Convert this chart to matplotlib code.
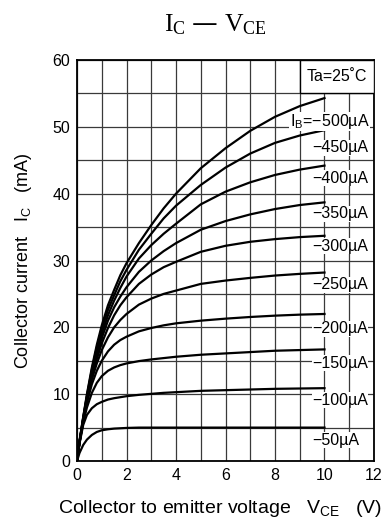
import matplotlib
matplotlib.use("Agg")
import matplotlib.pyplot as plt
from matplotlib.patches import Rectangle

# collector-emitter voltage (V) where the curves were read
vce = [0, 0.1, 0.25, 0.4, 0.6, 0.8, 1, 1.25, 1.5, 1.75, 2, 2.5, 3, 3.5, 4, 5, 6, 7, 8, 9, 10]

# collector current (mA) for each base current
ic_500 = [0, 3.0, 6.6, 10.0, 14.0, 17.4, 20.3, 23.3, 25.6, 27.8, 29.6, 32.6, 35.3, 37.8, 40.0, 43.8, 46.8, 49.4, 51.5, 53.1, 54.3]
ic_450 = [0, 2.9, 6.5, 9.8, 13.7, 17.0, 19.8, 22.6, 24.8, 26.9, 28.6, 31.6, 34.0, 36.3, 38.2, 41.3, 43.9, 46.0, 47.6, 48.7, 49.5]
ic_400 = [0, 2.9, 6.4, 9.6, 13.4, 16.5, 19.1, 21.8, 24.0, 25.9, 27.6, 30.3, 32.3, 34.0, 35.5, 38.4, 40.3, 41.7, 42.8, 43.6, 44.2]
ic_350 = [0, 2.8, 6.3, 9.4, 13.0, 15.9, 18.4, 21.0, 23.0, 24.6, 26.0, 28.3, 30.0, 31.4, 32.6, 34.6, 35.9, 36.9, 37.7, 38.3, 38.7]
ic_300 = [0, 2.8, 6.2, 9.2, 12.6, 15.3, 17.6, 19.9, 21.8, 23.3, 24.5, 26.5, 27.9, 29.0, 29.8, 31.3, 32.2, 32.8, 33.2, 33.5, 33.7]
ic_250 = [0, 2.8, 6.1, 9.0, 12.2, 14.6, 16.6, 18.5, 20.0, 21.1, 22.0, 23.4, 24.3, 25.0, 25.5, 26.5, 27.0, 27.4, 27.75, 28.0, 28.2]
ic_200 = [0, 2.7, 6.0, 8.7, 11.5, 13.5, 15.0, 16.4, 17.4, 18.1, 18.6, 19.4, 19.9, 20.3, 20.6, 21.0, 21.3, 21.55, 21.75, 21.9, 22.0]
ic_150 = [0, 2.7, 5.8, 8.0, 10.2, 11.7, 12.7, 13.5, 14.0, 14.35, 14.6, 14.95, 15.2, 15.4, 15.6, 15.9, 16.1, 16.3, 16.5, 16.6, 16.7]
ic_100 = [0, 2.6, 5.4, 6.9, 7.9, 8.5, 8.85, 9.2, 9.4, 9.55, 9.7, 9.9, 10.05, 10.2, 10.3, 10.5, 10.6, 10.7, 10.8, 10.85, 10.9]
ic_50 = [0, 1.2, 2.4, 3.2, 3.9, 4.35, 4.6, 4.75, 4.85, 4.9, 4.95, 5.0, 5.0, 5.0, 5.0, 5.0, 5.0, 5.0, 5.0, 5.0, 5.0]

curves = [ic_500, ic_450, ic_400, ic_350, ic_300, ic_250, ic_200, ic_150, ic_100, ic_50]
labels = ["$\\mathregular{I_B}$=\u2212500\u00b5A", "\u2212450\u00b5A", "\u2212400\u00b5A",
          "\u2212350\u00b5A", "\u2212300\u00b5A", "\u2212250\u00b5A", "\u2212200\u00b5A",
          "\u2212150\u00b5A", "\u2212100\u00b5A", "\u221250\u00b5A"]
label_x = [8.6, 9.5, 9.5, 9.5, 9.5, 9.5, 9.5, 9.5, 9.5, 9.5]
label_y = [50.8, 46.9, 42.3, 37.0, 32.1, 26.4, 19.8, 14.6, 9.1, 3.1]

plt.rcParams['font.family'] = ['Liberation Sans', 'DejaVu Sans']
fs = 11.5

fig = plt.figure(figsize=(3.89, 5.23), dpi=100)
ax = fig.add_axes([0.198, 0.1185, 0.7634, 0.7668])

for ic in curves:
    ax.plot(vce, ic, color='black', lw=1.6, solid_joinstyle='round', zorder=3)

for txt, lx, ly in zip(labels, label_x, label_y):
    ax.text(lx, ly, txt, fontsize=fs, ha='left', va='center', zorder=4,
            bbox=dict(facecolor='white', edgecolor='none', pad=0.3))

ax.add_patch(Rectangle((9, 55), 3, 5, facecolor='white', edgecolor='black', lw=1, zorder=4))
ax.text(10.5, 57.5, "Ta=25\u02daC", fontsize=fs, ha='center', va='center', zorder=5)

ax.set_xlim(0, 12)
ax.set_ylim(0, 60)
ax.set_xticks(range(0, 13, 2))
ax.set_yticks(range(0, 61, 10))
ax.set_xticks(range(0, 13), minor=True)
ax.set_yticks(range(0, 61, 5), minor=True)
ax.tick_params(which='both', length=0, labelsize=fs, pad=5)
ax.grid(True, which='both', color='#3a3a3a', lw=0.9, zorder=1)
ax.set_axisbelow(True)
for s in ax.spines.values():
    s.set_linewidth(1.3)

ax.set_ylabel("Collector current   $\\mathregular{I_C}$   (mA)", fontsize=13, va='center')
ax.yaxis.set_label_coords(-0.18, 0.5)
ax.set_xlabel("Collector to emitter voltage   $\\mathregular{V_{CE}}$   (V)", fontsize=14,
              ha='left', va='baseline')
ax.xaxis.set_label_coords(-0.064, -0.13)

fig.text(0.555, 0.952, "$\\mathregular{I_C}$ \u2014 $\\mathregular{V_{CE}}$", fontsize=18.5,
         family='Liberation Serif', ha='center', va='center')

fig.savefig("out.png", dpi=100)
